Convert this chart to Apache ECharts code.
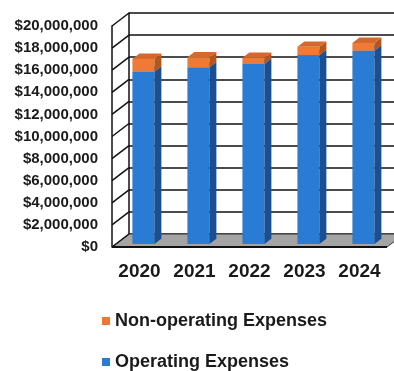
<!DOCTYPE html>
<html>
<head>
<meta charset="utf-8">
<style>
  html, body { margin: 0; padding: 0; background: #ffffff; }
  #chart { width: 394px; height: 371px; }
</style>
<script src="https://cdn.jsdelivr.net/npm/echarts@6/dist/echarts.min.js"></script>
</head>
<body>
<div id="chart"></div>
<script>
// Yearly expenses, stacked
const years = ['2020', '2021', '2022', '2023', '2024'];
const operatingExpenses = [15600000, 16000000, 16300000, 17100000, 17500000];
const nonOperatingExpenses = [1150000, 900000, 550000, 750000, 700000];
const yTicks = [0, 2000000, 4000000, 6000000, 8000000, 10000000, 12000000, 14000000, 16000000, 18000000, 20000000];

// Pseudo-3D depth of the plot box (back wall offset from the front plane)
const DX = 17, DY = -13;
// Bars occupy this slice of the depth
const BAR_FRONT = 0.23, BAR_BACK = 0.64;
const BAR_WIDTH = 0.4;

const FONT = 'Liberation Sans, Arial, sans-serif';

const chart = echarts.init(document.getElementById('chart'), null, { renderer: 'canvas' });

function money(v) {
  return '$' + v.toLocaleString('en-US');
}

// Stack bases for each segment
const opData = years.map((y, i) => [i, 0, operatingExpenses[i]]);
const nonOpData = years.map((y, i) => [i, operatingExpenses[i], operatingExpenses[i] + nonOperatingExpenses[i]]);

function boxRenderer(colors) {
  return function (params, api) {
    const i = api.value(0);
    const p0 = api.coord([i, api.value(1)]);
    const p1 = api.coord([i, api.value(2)]);
    const band = api.size([1, 0])[0];
    const w = band * BAR_WIDTH;
    const fx = BAR_FRONT * DX, fy = BAR_FRONT * DY;
    const bx = (BAR_BACK - BAR_FRONT) * DX, by = (BAR_BACK - BAR_FRONT) * DY;
    const xl = p0[0] - w / 2 + fx, xr = p0[0] + w / 2 + fx;
    const yb = p0[1] + fy, yt = p1[1] + fy;
    return {
      type: 'group',
      children: [
        { type: 'polygon', shape: { points: [[xl, yb], [xr, yb], [xr, yt], [xl, yt]] },
          style: { fill: colors.front } },
        { type: 'polygon', shape: { points: [[xr, yb], [xr + bx, yb + by], [xr + bx, yt + by], [xr, yt]] },
          style: { fill: colors.side } },
        { type: 'polygon', shape: { points: [[xl, yt], [xr, yt], [xr + bx, yt + by], [xl + bx, yt + by]] },
          style: { fill: colors.top } }
      ]
    };
  };
}

const legendText = { fontFamily: FONT, fontSize: 18, fontWeight: 'bold', color: '#1a1a1a', lineHeight: 20 };

const option = {
  backgroundColor: '#ffffff',
  animation: false,
  grid: [
    { left: 112, top: 26, width: 275, height: 221, containLabel: false },
    { left: 112 + DX, top: 26 + DY, width: 275, height: 221, containLabel: false }
  ],
  xAxis: [
    {
      type: 'category', gridIndex: 0, data: years,
      axisLine: { show: false },
      axisTick: { show: false },
      axisLabel: { fontFamily: FONT, fontSize: 19, fontWeight: 'bold', color: '#1a1a1a', margin: 15 }
    },
    {
      type: 'category', gridIndex: 1, data: years, show: false
    }
  ],
  yAxis: [
    {
      type: 'value', gridIndex: 0, min: 0, max: 20000000, interval: 2000000,
      axisLine: { show: true, lineStyle: { color: '#111', width: 1.5 } },
      axisTick: { show: false },
      splitLine: { show: false },
      axisLabel: { fontFamily: FONT, fontSize: 15, fontWeight: 'bold', color: '#1a1a1a', margin: 14, formatter: money }
    },
    {
      type: 'value', gridIndex: 1, min: 0, max: 20000000, interval: 2000000,
      axisLine: { show: true, lineStyle: { color: '#111', width: 1.5 } },
      axisTick: { show: false },
      axisLabel: { show: false },
      splitLine: { show: true, lineStyle: { color: '#111', width: 1.5 } }
    }
  ],
  legend: [
    {
      data: ['Non-operating Expenses'],
      left: 102, top: 311, padding: 0,
      itemWidth: 8, itemHeight: 8, icon: 'rect',
      textStyle: legendText
    },
    {
      data: ['Operating Expenses'],
      left: 102, top: 352, padding: 0,
      itemWidth: 8, itemHeight: 8, icon: 'rect',
      textStyle: legendText
    }
  ],
  series: [
    {
      // floor
      type: 'custom', name: 'floor', xAxisIndex: 0, yAxisIndex: 0, z: 1,
      silent: true,
      data: [[0, 0]],
      renderItem: function (params, api) {
        const band = api.size([1, 0])[0];
        const a = api.coord([0, 0]);
        const b = api.coord([years.length - 1, 0]);
        const xl = a[0] - band / 2, xr = b[0] + band / 2, y = a[1];
        return {
          type: 'group',
          children: [
            { type: 'polygon', shape: { points: [[xl, y], [xr, y], [xr + DX, y + DY], [xl + DX, y + DY]] },
              style: { fill: '#a4a4a4', stroke: '#3a3a3a', lineWidth: 1 } },
            { type: 'line', shape: { x1: xl, y1: y, x2: xr, y2: y },
              style: { stroke: '#111', lineWidth: 2 } }
          ]
        };
      }
    },
    {
      // depth connectors at each value tick on the left side
      type: 'custom', name: 'connectors', xAxisIndex: 0, yAxisIndex: 0, z: 1,
      silent: true,
      data: yTicks.map(v => [0, v]),
      renderItem: function (params, api) {
        const band = api.size([1, 0])[0];
        const p = api.coord([0, api.value(1)]);
        const x = p[0] - band / 2;
        return { type: 'line', shape: { x1: x, y1: p[1], x2: x + DX, y2: p[1] + DY },
          style: { stroke: '#111', lineWidth: 1.5 } };
      }
    },
    {
      type: 'custom', name: 'Operating Expenses', xAxisIndex: 0, yAxisIndex: 0, z: 3,
      itemStyle: { color: '#2a7bd3' },
      data: opData,
      renderItem: boxRenderer({ front: '#2a7bd3', side: '#1b4f8f', top: '#3d8ad8' })
    },
    {
      type: 'custom', name: 'Non-operating Expenses', xAxisIndex: 0, yAxisIndex: 0, z: 3,
      itemStyle: { color: '#ec7838' },
      data: nonOpData,
      renderItem: boxRenderer({ front: '#ee7a36', side: '#b3561f', top: '#d5692c' })
    }
  ]
};

chart.setOption(option);
</script>
</body>
</html>
